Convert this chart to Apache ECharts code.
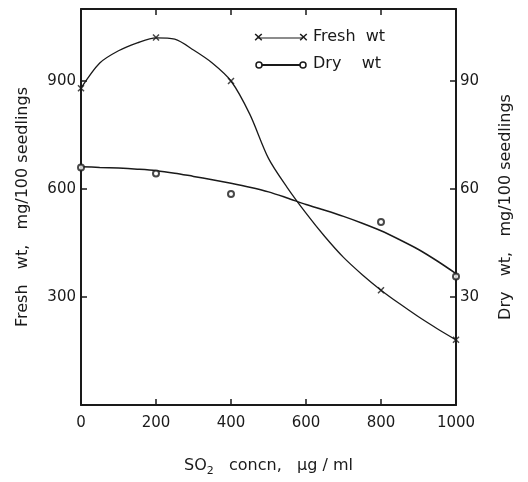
<!DOCTYPE html>
<html>
<head>
<meta charset="utf-8">
<script src="https://cdn.jsdelivr.net/npm/echarts@6/dist/echarts.min.js"></script>
<style>
  html, body { margin: 0; padding: 0; background: #fff; }
  #chart { width: 528px; height: 482px; }
</style>
</head>
<body>
<div id="chart"></div>
<script>
// measured points: SO2 concentration (µg/ml)
const concn = [0, 200, 400, 800, 1000];
// fresh weight, mg/100 seedlings
const freshWt = [880, 1021, 900, 319, 181];
// dry weight, mg/100 seedlings
const dryWt = [66, 64.3, 58.6, 50.8, 35.7];

const curveConcn = [0, 50, 100, 150, 200, 250, 300, 350, 400, 450, 500,
                    550, 600, 650, 700, 750, 800, 850, 900, 950, 1000];
const freshCurve = [880, 950, 984, 1006, 1020, 1016, 986, 950, 900, 808, 685,
                    604, 533, 468, 410, 362, 319, 281, 245, 212, 181];
const dryCurve = [66.2, 66, 65.8, 65.5, 65.1, 64.4, 63.5, 62.6, 61.6, 60.5, 59.2,
                  57.5, 55.7, 54.1, 52.4, 50.5, 48.4, 45.9, 43.2, 40, 36.5];

const FONT = 'DejaVu Sans';
const INK = '#1a1a1a';

const crossPath = 'path://M0,0L10,10M10,0L0,10';
const pairs = (xs, ys) => xs.map((x, i) => [x, ys[i]]);

const chart = echarts.init(document.getElementById('chart'));

const tickStyle = { show: true, inside: true, length: 6, lineStyle: { color: INK, width: 1.5 } };
const lineStyleAxis = { show: true, onZero: false, lineStyle: { color: INK, width: 2 } };

const option = {
  backgroundColor: '#fff',
  animation: false,
  grid: { left: 81, right: 72, top: 9, bottom: 66 },
  xAxis: [{
    type: 'value',
    position: 'bottom',
    min: 0, max: 1000, interval: 200,
    axisLine: lineStyleAxis,
    axisTick: tickStyle,
    splitLine: { show: false },
    axisLabel: { color: INK, fontFamily: FONT, fontSize: 15, margin: 11, formatter: (v) => String(v) },
    name: 'SO{sub|2}   concn,   μg / ml',
    nameLocation: 'middle',
    nameGap: 49,
    nameTextStyle: {
      color: INK, fontFamily: FONT, fontSize: 16,
      rich: { sub: { fontFamily: FONT, fontSize: 11, color: INK, padding: [12, 0, 0, 0] } }
    }
  }, {
    type: 'value',
    position: 'top',
    min: 0, max: 1000, interval: 200,
    axisLine: lineStyleAxis,
    axisTick: tickStyle,
    axisLabel: { show: false },
    splitLine: { show: false }
  }],
  yAxis: [{
    type: 'value',
    position: 'left',
    min: 0, max: 1100, interval: 300,
    axisLine: lineStyleAxis,
    axisTick: tickStyle,
    splitLine: { show: false },
    axisLabel: {
      color: INK, fontFamily: FONT, fontSize: 15, margin: 5,
      formatter: (v) => (v > 0 && v <= 900 ? String(v) : '')
    },
    name: 'Fresh   wt,   mg/100 seedlings',
    nameLocation: 'middle',
    nameRotate: 90,
    nameGap: 50,
    nameTextStyle: { color: INK, fontFamily: FONT, fontSize: 16 }
  }, {
    type: 'value',
    position: 'right',
    min: 0, max: 110, interval: 30,
    axisLine: lineStyleAxis,
    axisTick: tickStyle,
    splitLine: { show: false },
    axisLabel: {
      color: INK, fontFamily: FONT, fontSize: 15, margin: 4,
      formatter: (v) => (v > 0 && v <= 90 ? String(v) : '')
    },
    name: 'Dry   wt,   mg/100 seedlings',
    nameLocation: 'middle',
    nameRotate: 90,
    nameGap: 42,
    nameTextStyle: { color: INK, fontFamily: FONT, fontSize: 16 }
  }],
  graphic: [
    { type: 'line', shape: { x1: 258, y1: 38, x2: 303, y2: 38 }, style: { stroke: INK, lineWidth: 1.2 } },
    { type: 'text', left: 253, top: 31, style: { text: '×', fill: INK, font: 'bold 13px ' + FONT } },
    { type: 'text', left: 298, top: 31, style: { text: '×', fill: INK, font: 'bold 13px ' + FONT } },
    { type: 'text', left: 313, top: 29, style: { text: 'Fresh  wt', fill: INK, font: '16px ' + FONT } },
    { type: 'line', shape: { x1: 259, y1: 65, x2: 303, y2: 65 }, style: { stroke: INK, lineWidth: 2 } },
    { type: 'circle', shape: { cx: 259, cy: 65, r: 3 }, style: { fill: '#fff', stroke: INK, lineWidth: 1.5 } },
    { type: 'circle', shape: { cx: 303, cy: 65, r: 3 }, style: { fill: '#fff', stroke: INK, lineWidth: 1.5 } },
    { type: 'text', left: 313, top: 56, style: { text: 'Dry    wt', fill: INK, font: '16px ' + FONT } }
  ],
  series: [{
    name: 'Fresh wt curve',
    type: 'line',
    yAxisIndex: 0,
    smooth: 0.3,
    showSymbol: false,
    data: pairs(curveConcn, freshCurve),
    lineStyle: { color: INK, width: 1.3 },
    z: 2
  }, {
    name: 'Dry wt curve',
    type: 'line',
    yAxisIndex: 1,
    smooth: 0.3,
    showSymbol: false,
    data: pairs(curveConcn, dryCurve),
    lineStyle: { color: INK, width: 1.5 },
    z: 2
  }, {
    name: 'Fresh wt',
    type: 'scatter',
    yAxisIndex: 0,
    data: pairs(concn, freshWt),
    symbol: crossPath,
    symbolSize: 6,
    itemStyle: { color: INK, borderColor: INK, borderWidth: 1.5 },
    z: 3
  }, {
    name: 'Dry wt',
    type: 'scatter',
    yAxisIndex: 1,
    data: pairs(concn, dryWt),
    symbol: 'emptyCircle',
    symbolSize: 6,
    itemStyle: { color: INK, borderWidth: 1.2 },
    z: 3
  }]
};

chart.setOption(option);
</script>
</body>
</html>
